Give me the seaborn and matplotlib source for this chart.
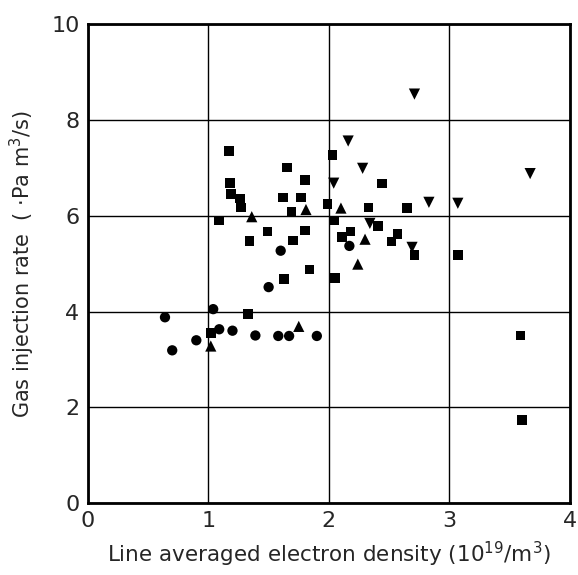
import pandas as pd
import seaborn as sns
import matplotlib.pyplot as plt

# values
circle_x = [0.64, 0.70, 0.90, 1.04, 1.09, 1.20, 1.39, 1.50, 1.58, 1.60, 1.67, 1.90, 2.17]
circle_y = [3.88, 3.19, 3.40, 4.05, 3.63, 3.60, 3.50, 4.51, 3.49, 5.27, 3.49, 3.49, 5.37]

square_x = [1.02, 1.09, 1.17, 1.18, 1.19, 1.26, 1.27, 1.33, 1.34, 1.49, 1.62, 1.63,
            1.65, 1.69, 1.70, 1.77, 1.80, 1.80, 1.84, 1.99, 2.03, 2.04, 2.05, 2.11,
            2.18, 2.33, 2.41, 2.44, 2.52, 2.57, 2.65, 2.71, 3.07, 3.59, 3.60]
square_y = [3.55, 5.90, 7.35, 6.69, 6.45, 6.36, 6.17, 3.95, 5.47, 5.67, 6.38, 4.68,
            7.01, 6.09, 5.48, 6.38, 6.75, 5.69, 4.88, 6.24, 7.27, 5.90, 4.70, 5.56,
            5.67, 6.17, 5.78, 6.67, 5.46, 5.62, 6.16, 5.18, 5.18, 3.50, 1.74]

up_x = [1.02, 1.36, 1.75, 1.81, 2.10, 2.24, 2.30]
up_y = [3.28, 5.98, 3.69, 6.13, 6.16, 4.99, 5.51]

down_x = [2.04, 2.16, 2.28, 2.34, 2.69, 2.71, 2.83, 3.07, 3.67]
down_y = [6.68, 7.56, 6.99, 5.84, 5.34, 8.54, 6.28, 6.26, 6.88]

df = pd.concat([
    pd.DataFrame({'density': circle_x, 'rate': circle_y, 'kind': 'circle'}),
    pd.DataFrame({'density': square_x, 'rate': square_y, 'kind': 'square'}),
    pd.DataFrame({'density': up_x, 'rate': up_y, 'kind': 'up'}),
    pd.DataFrame({'density': down_x, 'rate': down_y, 'kind': 'down'}),
])

sns.set_style('white')
plt.rcParams['font.family'] = ['DejaVu Sans']

fig = plt.figure(figsize=(5.78, 5.75), dpi=100)
ax = fig.add_axes([0.152, 0.125, 0.834, 0.833])

sns.scatterplot(data=df, x='density', y='rate', style='kind', size='kind',
                markers={'circle': 'o', 'square': 's', 'up': '^', 'down': 'v'},
                sizes={'circle': 55, 'square': 48, 'up': 65, 'down': 65},
                color='black', edgecolor='black', linewidth=0,
                legend=False, ax=ax, zorder=3)

ax.set_xlim(0, 4)
ax.set_ylim(0, 10)
ax.set_xticks([0, 1, 2, 3, 4])
ax.set_yticks([0, 2, 4, 6, 8, 10])
ax.grid(True, color='black', linewidth=1.0)
for sp in ax.spines.values():
    sp.set_color('black')
    sp.set_linewidth(2)
ax.tick_params(length=0, labelsize=16, pad=6)
ax.set_xlabel('Line averaged electron density (10$^{19}$/m$^3$)', fontsize=15.5, labelpad=6)
ax.set_ylabel('Gas injection rate  ( ·Pa m$^3$/s)', fontsize=15, labelpad=10)

plt.savefig('out.png', dpi=100)
